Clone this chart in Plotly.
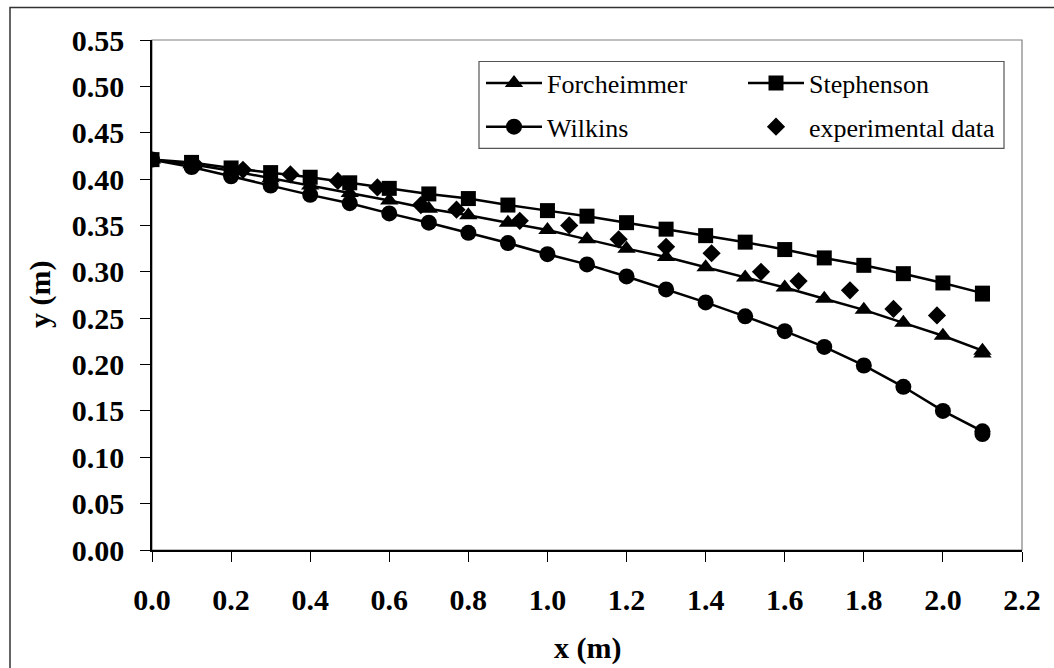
import plotly.graph_objects as go

# Distance along the channel (m) for the three model profiles
x_model = [0.0, 0.1, 0.2, 0.3, 0.4, 0.5, 0.6, 0.7, 0.8, 0.9, 1.0,
           1.1, 1.2, 1.3, 1.4, 1.5, 1.6, 1.7, 1.8, 1.9, 2.0, 2.1, 2.1]

# Water-surface elevation y (m) predicted by each formula
y_forcheimmer = [0.421, 0.416, 0.409, 0.401, 0.393, 0.385, 0.377, 0.368, 0.361, 0.353, 0.345,
                 0.335, 0.325, 0.316, 0.305, 0.294, 0.283, 0.271, 0.259, 0.245, 0.231, 0.215, 0.212]
y_stephenson = [0.421, 0.418, 0.412, 0.407, 0.402, 0.396, 0.390, 0.384, 0.379, 0.372, 0.366,
                0.360, 0.353, 0.346, 0.339, 0.332, 0.324, 0.315, 0.307, 0.298, 0.288, 0.277, 0.276]
y_wilkins = [0.421, 0.413, 0.403, 0.393, 0.383, 0.374, 0.363, 0.353, 0.342, 0.331, 0.319,
             0.308, 0.295, 0.281, 0.267, 0.252, 0.236, 0.219, 0.199, 0.176, 0.150, 0.128, 0.125]

# Measured profile
x_exp = [0.11, 0.23, 0.35, 0.47, 0.57, 0.68, 0.77, 0.93, 1.055, 1.18, 1.30,
         1.415, 1.54, 1.635, 1.765, 1.875, 1.985]
y_exp = [0.415, 0.410, 0.405, 0.398, 0.391, 0.372, 0.367, 0.355, 0.350, 0.335, 0.327,
         0.320, 0.300, 0.290, 0.280, 0.260, 0.253]

# Axis ticks
x_ticks = [0.0, 0.2, 0.4, 0.6, 0.8, 1.0, 1.2, 1.4, 1.6, 1.8, 2.0, 2.2]
y_ticks = [0.00, 0.05, 0.10, 0.15, 0.20, 0.25, 0.30, 0.35, 0.40, 0.45, 0.50, 0.55]

SERIF = "Liberation Serif"
BLACK = "#000000"

fig = go.Figure()

line_style = dict(color=BLACK, width=2.5)

fig.add_trace(go.Scatter(
    x=x_model, y=y_forcheimmer, name="Forcheimmer", mode="lines+markers",
    line=line_style, marker=dict(symbol="triangle-up", size=16, color=BLACK),
    legend="legend", legendgroup="f"))
fig.add_trace(go.Scatter(
    x=x_model, y=y_wilkins, name="Wilkins", mode="lines+markers",
    line=line_style, marker=dict(symbol="circle", size=16, color=BLACK),
    legend="legend", legendgroup="w"))
fig.add_trace(go.Scatter(
    x=x_model, y=y_stephenson, name="Stephenson", mode="lines+markers",
    line=line_style, marker=dict(symbol="square", size=15, color=BLACK),
    legend="legend2", legendgroup="s"))
fig.add_trace(go.Scatter(
    x=x_exp, y=y_exp, name="experimental data", mode="markers",
    marker=dict(symbol="diamond", size=14, color=BLACK),
    legend="legend2", legendgroup="e"))

L, R, T, B = 152, 32, 39.5, 118
W, H = 1054, 668
pw, ph = W - L - R, H - T - B


def px(xp):
    return (xp - L) / pw


def py(yp):
    return (H - B - yp) / ph


def legend_cfg(left):
    return dict(
        x=px(left), y=py(59), xanchor="left", yanchor="top",
        font=dict(family=SERIF, size=26, color=BLACK),
        bgcolor="rgba(0,0,0,0)", borderwidth=0,
        orientation="v", itemwidth=56, tracegroupgap=7,
        itemclick=False, itemdoubleclick=False,
    )


tick_font = dict(family=SERIF, size=30, color=BLACK, weight="bold")

fig.update_layout(
    width=W, height=H,
    margin=dict(l=L, r=R, t=T, b=B),
    paper_bgcolor="white", plot_bgcolor="white",
    font=dict(family=SERIF, color=BLACK),
    showlegend=True,
    legend=legend_cfg(481),
    legend2=legend_cfg(743),
    xaxis=dict(
        range=[0, 2.2], tickvals=x_ticks, tickformat=".1f",
        showgrid=False, zeroline=False,
        showline=True, linecolor=BLACK, linewidth=1.5,
        ticks="outside", ticklen=10, tickwidth=1, tickcolor=BLACK,
        tickfont=tick_font, ticklabelstandoff=12,
    ),
    yaxis=dict(
        range=[0, 0.55], tickvals=y_ticks, tickformat=".2f",
        showgrid=False, zeroline=False,
        showline=True, linecolor=BLACK, linewidth=1.5,
        ticks="outside", ticklen=10, tickwidth=1, tickcolor=BLACK,
        tickfont=tick_font, ticklabelstandoff=10,
    ),
    annotations=[
        dict(text="<b>x (m)</b>", xref="paper", yref="paper",
             x=0.5, y=py(648), xanchor="center", yanchor="middle",
             showarrow=False, font=dict(family=SERIF, size=30, color=BLACK)),
        dict(text="<b>y (m)</b>", xref="paper", yref="paper",
             x=px(40), y=0.5, xanchor="center", yanchor="middle", textangle=-90,
             showarrow=False, font=dict(family=SERIF, size=30, color=BLACK)),
    ],
    shapes=[
        # outer chart frame
        dict(type="rect", xref="paper", yref="paper",
             x0=px(10), x1=px(1080), y0=py(700), y1=py(7),
             line=dict(color="#333333", width=1.5), layer="below"),
        # plot-area frame
        dict(type="rect", xref="paper", yref="paper",
             x0=0, x1=1, y0=0, y1=1,
             line=dict(color="#808080", width=1.2), layer="below"),
        # legend box
        dict(type="rect", xref="paper", yref="paper",
             x0=px(479), x1=px(1004), y0=py(148), y1=py(61),
             line=dict(color="#555555", width=1.2), fillcolor="white", layer="below"),
    ],
)

fig.write_html("out.html")
